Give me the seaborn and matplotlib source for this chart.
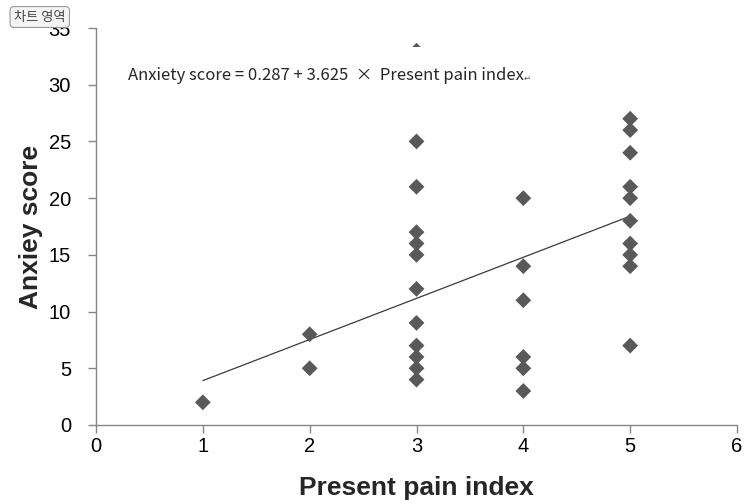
import matplotlib
matplotlib.use('Agg')
import matplotlib.pyplot as plt
import seaborn as sns
import pandas as pd
from matplotlib.patches import Rectangle

# ── Data ───────────────────────────────────────────────────────────────────────
pain_index = [1,
              2, 2,
              3, 3, 3, 3, 3, 3, 3, 3, 3, 3, 3, 3,
              4, 4, 4, 4, 4, 4,
              5, 5, 5, 5, 5, 5, 5, 5, 5, 5]
anxiety = [2,
           8, 5,
           33, 25, 21, 17, 16, 15, 12, 9, 7, 6, 5, 4,
           20, 14, 11, 6, 5, 3,
           27, 26, 24, 21, 20, 18, 16, 15, 14, 7]
intercept = 0.287
slope = 3.625
line_x = [1, 5]
x_ticks = [0, 1, 2, 3, 4, 5, 6]
y_ticks = [0, 5, 10, 15, 20, 25, 30, 35]

df = pd.DataFrame({'pain': pain_index, 'anxiety': anxiety})
fit = pd.DataFrame({'pain': line_x})
fit['anxiety'] = intercept + slope * fit['pain']

sns.set_theme(style='white')
plt.rcParams['font.family'] = ['Liberation Sans', 'DejaVu Sans']

grey = '#868686'
tick_font = ['Liberation Sans Narrow', 'Liberation Sans', 'DejaVu Sans']

fig = plt.figure(figsize=(7.45, 5.04), dpi=100)
ax = fig.add_axes([96/745, 79/504, 641/745, 397/504])

sns.scatterplot(data=df, x='pain', y='anxiety', marker='D', s=65,
                color='#595959', edgecolor='none', ax=ax, zorder=3)
sns.lineplot(data=fit, x='pain', y='anxiety', color='#3a3a3a', linewidth=0.9,
             ax=ax, zorder=2)

ax.set_xlim(0, 6)
ax.set_ylim(0, 35)
ax.set_xticks(x_ticks)
ax.set_yticks(y_ticks)
ax.tick_params(axis='both', direction='out', length=6, width=1, color=grey,
               labelsize=14.5, labelcolor='black', bottom=True, left=True)
ax.tick_params(axis='y', pad=12)
ax.tick_params(axis='x', pad=3)
for lbl in ax.get_xticklabels() + ax.get_yticklabels():
    lbl.set_family(tick_font)
for side in ['top', 'right']:
    ax.spines[side].set_visible(False)
for side in ['left', 'bottom']:
    ax.spines[side].set_color(grey)
    ax.spines[side].set_linewidth(1)

ax.set_xlabel('Present pain index', fontsize=19, fontweight='bold', labelpad=14)
ax.set_ylabel('Anxiey score', fontsize=19, fontweight='bold', labelpad=4)

# equation text box (white, sits over the plot like the Excel text box)
ax.add_patch(Rectangle((0.13, 28.6), 3.84, 4.73, facecolor='white',
                       edgecolor='none', zorder=4))
eq = ax.text(0.30, 30.8, 'Anxiety score = 0.287 + 3.625  \u00d7  Present pain index',
             fontsize=12, va='center', ha='left', zorder=5,
             family=['Noto Sans CJK KR', 'DejaVu Sans'])
ax.annotate('\u21b5', xy=(1, 0.1), xycoords=eq, fontsize=6, color='#555555',
            va='bottom', ha='left', zorder=5, family=['DejaVu Sans'])

# "chart area" tooltip at top-left
fig.text(14/745, 1 - 17/504, '차트 영역', fontsize=9.5, color='#444444',
         va='center', ha='left', family=['Noto Sans CJK KR', 'DejaVu Sans'],
         zorder=10,
         bbox=dict(boxstyle='round,pad=0.3', facecolor='#f4f4f4',
                   edgecolor='#9a9a9a', linewidth=0.8))

plt.savefig('out.png', dpi=100)
plt.close()
